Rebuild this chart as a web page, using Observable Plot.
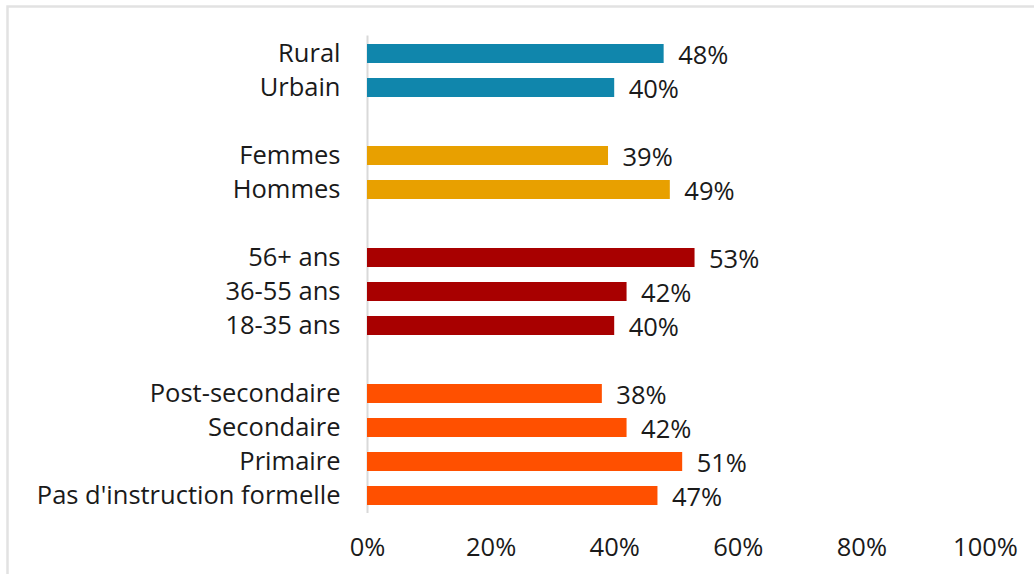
<!DOCTYPE html>
<html>
<head>
<meta charset="utf-8">
<script src="https://cdn.jsdelivr.net/npm/d3@7"></script>
<script src="https://cdn.jsdelivr.net/npm/@observablehq/plot@0.6"></script>
<style>
  html, body { margin: 0; padding: 0; background: #fff; }
  #chart svg { display: block; }
</style>
</head>
<body>
<div id="chart"></div>
<script>
const labels = ["Rural", "Urbain", "Femmes", "Hommes", "56+ ans", "36-55 ans", "18-35 ans",
  "Post-secondaire", "Secondaire", "Primaire", "Pas d'instruction formelle"];
const values = [48, 40, 39, 49, 53, 42, 40, 38, 42, 51, 47];
const groups = ["Milieu", "Milieu", "Sexe", "Sexe", "Âge", "Âge", "Âge",
  "Éducation", "Éducation", "Éducation", "Éducation"];
const groupNames = ["Milieu", "Sexe", "Âge", "Éducation"];
const groupColors = ["#1086AC", "#E8A000", "#A80000", "#FF5000"];
const xTicks = [0, 20, 40, 60, 80, 100];

const data = labels.map((label, i) => ({label, value: values[i], group: groups[i]}));

// y domain with a blank row between groups
const domain = [];
data.forEach((d, i) => {
  if (i > 0 && d.group !== data[i - 1].group) domain.push("__gap" + i);
  domain.push(d.label);
});

const FONT = "'Open Sans', sans-serif";
const FS = 25.5;

const chart = Plot.plot({
  width: 1034,
  height: 574,
  marginLeft: 367,
  marginRight: 49,
  marginTop: 35.5,
  marginBottom: 61,
  style: {fontFamily: FONT, fontSize: FS + "px", color: "#1a1a1a", background: "#fff", overflow: "hidden"},
  x: {domain: [0, 100], label: null},
  y: {domain, paddingInner: 0.45, paddingOuter: 0.225, label: null},
  color: {domain: groupNames, range: groupColors},
  marks: [
    Plot.frame({stroke: "#e2e2e2", strokeWidth: 2.5, insetLeft: -360, insetTop: -29.5, insetRight: -80, insetBottom: -80}),
    Plot.ruleX([0], {stroke: "#d9d9d9", strokeWidth: 2}),
    Plot.barX(data, {x: "value", y: "label", fill: "group"}),
    Plot.text(data, {x: "value", y: "label", text: d => d.value + "%", textAnchor: "start", dx: 14, dy: 2, fill: "#1a1a1a", fontSize: FS}),
    Plot.axisY({tickSize: 0, tickPadding: 27, tickFormat: d => d.startsWith("__gap") ? "" : d, fontSize: FS, fill: "#1a1a1a", label: null}),
    Plot.axisX({ticks: xTicks, tickSize: 0, tickPadding: 24, tickFormat: d => d + "%", fontSize: FS, fill: "#1a1a1a", label: null})
  ]
});

document.getElementById("chart").appendChild(chart);
</script>
</body>
</html>
